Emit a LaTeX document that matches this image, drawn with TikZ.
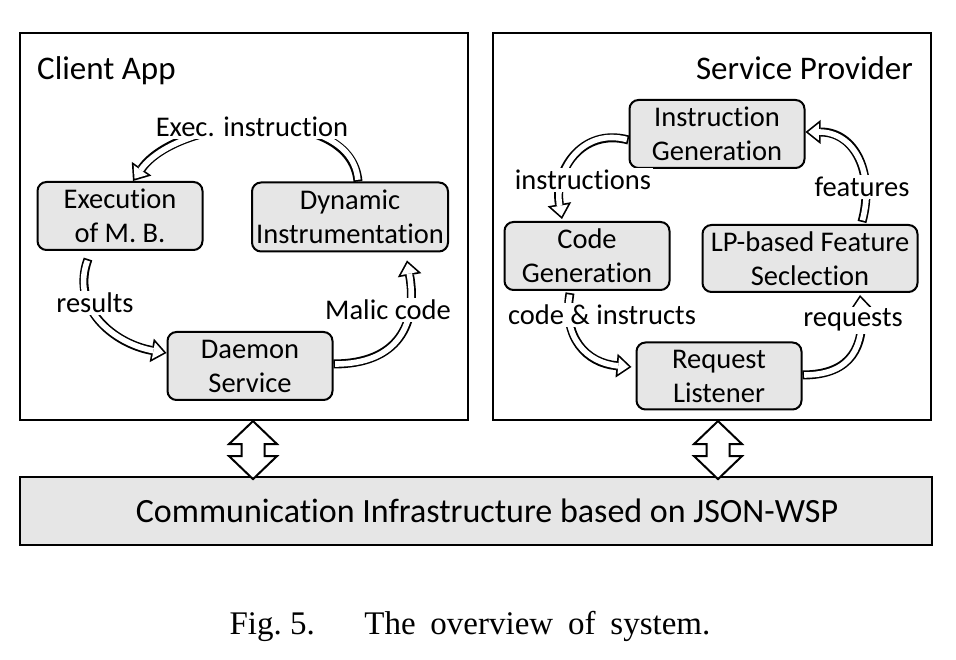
\documentclass[tikz,border=0pt]{standalone}
\usepackage{fontspec}
\setmainfont{Carlito}[Ligatures=CommonOff]
\newfontfamily\capfont{Liberation Serif}
\usepackage{tikz}
\usetikzlibrary{positioning, arrows.meta, calc, backgrounds}
\definecolor{ink}{RGB}{0,0,0}
\definecolor{boxfill}{RGB}{230,230,230}
\tikzset{
  panel/.style    ={rectangle, draw=ink, line width=2.2pt, inner sep=0pt},
  block/.style    ={rectangle, rounded corners=9pt, draw=ink, line width=2pt, fill=boxfill,
                    inner sep=1pt, align=center, font=\fontsize{28.5}{34}\selectfont},
  title/.style    ={inner sep=0pt, font=\fontsize{33}{36}\selectfont},
  flowlabel/.style={fill=white, inner sep=2pt, anchor=base, font=\fontsize{28.5}{34}\selectfont},
  flowout/.style  ={line width=9pt, draw=ink, -{Triangle[length=15pt, width=24pt, line width=0pt]}},
  flowin/.style   ={line width=5.6pt, draw=white, shorten >=2.7pt, shorten <=1.7pt,
                    -{Triangle[length=10.6pt, width=16.9pt, line width=0pt]}},
  linkarrow/.style={draw=ink, line width=2pt, fill=white, line join=miter},
}
\newcommand{\flow}[1]{\draw[flowout] #1; \draw[flowin] #1;}
\newcommand{\link}[1]{\draw[linkarrow] #1 -- ++(24,-23) -- ++(-12.5,0) -- ++(0,-12) -- ++(12.5,0)
  -- ++(-24,-23) -- ++(-24,23) -- ++(12.5,0) -- ++(0,12) -- ++(-12.5,0) -- cycle;}

\begin{document}
\begin{tikzpicture}[x=1pt, y=1pt]
\useasboundingbox (0,0) rectangle (956,660);

% panels and bus
\node[panel, minimum width=448pt, minimum height=387pt] (client) at (244,433.5) {};
\node[panel, minimum width=438pt, minimum height=387pt] (service) at (712,433.5) {};
\node[panel, fill=boxfill, minimum width=912pt, minimum height=68pt, font=\fontsize{34}{36}\selectfont] (bus) at (476,149)
  {\hspace*{22pt}Communication Infrastructure based on JSON-WSP};
\node[title, anchor=base west] (ctitle) at (37,580) {Client App};
\node[title, anchor=base east] (stitle) at (913,580) {Service Provider};

% client app
\node[block, minimum width=165pt, minimum height=68pt] (exec) at (120,444) {Execution\\of M. B.};
\node[block, minimum width=196pt, minimum height=69pt] (dyn) at (350,443) {Dynamic\\Instrumentation};
\node[block, minimum width=165pt, minimum height=68pt] (dmn) at (250,294) {Daemon\\Service};

% service provider
\node[block, minimum width=175pt, minimum height=68pt] (igen) at (717,526) {Instruction\\Generation};
\node[block, minimum width=165pt, minimum height=68pt] (cgen) at (587,404) {Code\\Generation};
\node[block, minimum width=215pt, minimum height=67pt] (lpfs) at (810,401.5) {LP-based Feature\\Seclection};
\node[block, minimum width=165pt, minimum height=67pt] (rlis) at (719,284) {Request\\Listener};

% cycles
\begin{scope}[on background layer]
\flow{([xshift=8]dyn.north) to[out=95, in=55, looseness=0.9] ([xshift=13]exec.north)}
\flow{([xshift=-32, yshift=-8]exec.south) to[out=-110, in=170, looseness=1.1] ([yshift=13]dmn.west)}
\flow{([yshift=2]dmn.east) to[out=0, in=-80, looseness=1.3] ([xshift=57, yshift=-8]dyn.south)}
\flow{([yshift=-6]igen.west) to[out=165, in=100, looseness=1.2] ([xshift=-25, yshift=2]cgen.north)}
\flow{([xshift=52, yshift=2]lpfs.north) to[out=75, in=0, looseness=1.2] ([yshift=2]igen.east)}
\flow{([yshift=1]rlis.east) to[out=0, in=-85, looseness=1.3] ([xshift=50, yshift=-2]lpfs.south)}
\flow{([xshift=-17, yshift=-2]cgen.south) to[out=-100, in=175, looseness=1.2] ([xshift=-4, yshift=9]rlis.west)}
\end{scope}

\node[flowlabel] (lbexec) at (252,523) {Exec. instruction};
\node[flowlabel] (lbres) at (95,347) {results};
\node[flowlabel] (lbmal) at (388,340) {Malic code};
\node[flowlabel] (lbins) at (583,470) {instructions};
\node[flowlabel] (lbfeat) at (862,463) {features};
\node[flowlabel] (lbcode) at (602,335) {code \& instructs};
\node[flowlabel] (lbreq) at (853,333) {requests};

% links to the bus
\link{($(client.south)+(9,0)$)}
\link{($(service.south)+(6,0)$)}

\node[anchor=base, font=\capfont\fontsize{33}{36}\selectfont] (caption) at (470,25)
  {\spaceskip=0.45em Fig.\hspace{0.25em}5.\hspace{1.5em}The overview of system.};
\end{tikzpicture}
\end{document}
